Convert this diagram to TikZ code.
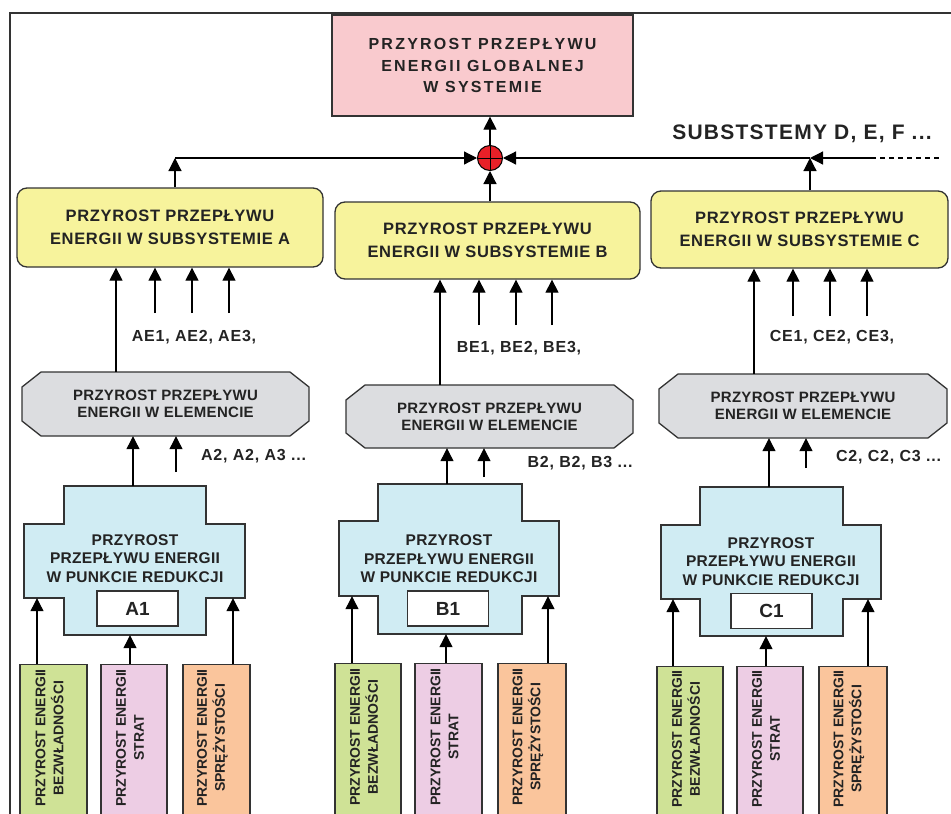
\documentclass[tikz,border=0pt]{standalone}
\usepackage{fontspec}
\setmainfont{Liberation Sans}
\newfontfamily\fT{Liberation Sans}[LetterSpace=14]
\newfontfamily\fY{Liberation Sans}[LetterSpace=4]
\newfontfamily\fO{Liberation Sans}[LetterSpace=2]
\newfontfamily\fL{Liberation Sans}[LetterSpace=5]
\newfontfamily\fS{Liberation Sans}[LetterSpace=6]
\usetikzlibrary{arrows.meta,calc}
\definecolor{pinkT}{RGB}{249,202,206}
\definecolor{yel}{RGB}{247,243,156}
\definecolor{gry}{RGB}{220,221,224}
\definecolor{blu}{RGB}{208,236,243}
\definecolor{grn}{RGB}{207,226,150}
\definecolor{pnk}{RGB}{237,205,228}
\definecolor{org}{RGB}{250,197,156}
\definecolor{edge}{RGB}{51,51,51}
\definecolor{txt}{RGB}{35,35,35}
\definecolor{sumred}{RGB}{232,32,40}
\newcommand\octbox[6]{%
  \draw[outl, fill=gry] ({#1+19},#2) -- ({#3-19},#2) -- (#3,{#2+15}) -- (#3,{#4-15})
    -- ({#3-19},#4) -- ({#1+19},#4) -- (#1,{#4-15}) -- (#1,{#2+15}) -- cycle;
  \node[inner sep=0pt, minimum width={#3-#1}, minimum height={#4-#2}, align=center,
    text=txt, font=\fO\bfseries\fontsize{15}{17}\selectfont] (#5) at ({(#1+#3)/2},{(#2+#4)/2}) {#6};}
% narrow x1 x2, wide x1 x2, y1 y2 y3 y4, name
\newcommand\crossbox[9]{%
  \draw[outl, fill=blu] (#1,#5) -- (#2,#5) -- (#2,#6) -- (#4,#6) -- (#4,#7) -- (#2,#7)
    -- (#2,#8) -- (#1,#8) -- (#1,#7) -- (#3,#7) -- (#3,#6) -- (#1,#6) -- cycle;
  \node[inner sep=0pt, minimum width={#2-#1}, minimum height={#8-#5}] (#9) at ({(#1+#2)/2},{(#5+#8)/2}) {};
  \node[inner sep=0pt, minimum width={#4-#3}, minimum height={#7-#6}] (#9w) at ({(#3+#4)/2},{(#6+#7)/2}) {};}
\begin{document}
\begin{tikzpicture}[x=1pt,y=-1pt,
  outl/.style={draw=edge, line width=1.3pt},
  box/.style={outl, inner sep=0pt, align=center, text=txt},
  ybox/.style={box, fill=yel, rounded corners=10pt, font=\fY\bfseries\fontsize{16.5}{23}\selectfont},
  ctext/.style={inner sep=0pt, align=center, text=txt, font=\fO\bfseries\fontsize{15.5}{18.5}\selectfont},
  idbox/.style={box, fill=white, line width=1.2pt, minimum width=81pt, minimum height=35pt, font=\bfseries\fontsize{19}{22}\selectfont},
  bbox/.style={box, anchor=north, minimum height=170pt},
  btext/.style={inner sep=0pt, align=center, text=txt, rotate=90, font=\bfseries\fontsize{14}{18}\selectfont},
  lab/.style={inner sep=0pt, text=txt, font=\fL\bfseries\fontsize{16}{18}\selectfont},
  arr/.style={-{Triangle[length=13pt,width=13pt]}, line width=1.2pt, draw=black}]
\useasboundingbox (0,0) rectangle (951,814);
\clip (0,0) rectangle (951,814);
% frame
\draw[line width=1.6pt, edge] (951,13) -- (10,13) -- (10,830);
% top
\node[box, fill=pinkT, minimum width=301pt, minimum height=101pt,
  font=\fT\bfseries\fontsize{16}{21.5}\selectfont] (top) at (482.5,65.5)
  {PRZYROST PRZEPŁYWU\\ENERGII GLOBALNEJ\\W SYSTEMIE};
\node[inner sep=0pt, text=txt, font=\fS\bfseries\fontsize{21}{23}\selectfont] (subs) at (802,134) {SUBSTSTEMY D, E, F ...};
\node[circle, draw=black, fill=sumred, line width=1pt, minimum size=25pt, inner sep=0pt] (sum) at (490,158) {};
\draw[line width=1pt] (sum.north) -- (sum.south) (sum.west) -- (sum.east);
% subsystem boxes
\node[ybox, minimum width=306pt, minimum height=79pt] (yA) at (170,227.5) {PRZYROST PRZEPŁYWU\\ENERGII W SUBSYSTEMIE A};
\node[ybox, minimum width=305pt, minimum height=77pt] (yB) at (487.5,240.5) {PRZYROST PRZEPŁYWU\\ENERGII W SUBSYSTEMIE B};
\node[ybox, minimum width=297pt, minimum height=77pt] (yC) at (799.5,229.5) {PRZYROST PRZEPŁYWU\\ENERGII W SUBSYSTEMIE C};
% top connections
\coordinate (jA) at (175,158);
\coordinate (jC) at (810,158);
\coordinate (dS) at (871,158);
\coordinate (dE) at (940,158);
\draw[arr] (sum.north) -- (top.south -| sum.north);
\draw[arr] (yA.north -| jA) -- (jA);
\draw[arr] (jA) -- (sum.west);
\draw[arr] (yB.north -| sum.south) -- (sum.south);
\draw[arr] (yC.north -| jC) -- (jC);
\draw[arr] (dS) -- (jC);
\draw[arr] (jC) -- (sum.east);
\draw[line width=1.2pt, dash pattern=on 5pt off 4pt] (dS) -- (dE);
% element octagons
\octbox{22}{372}{309}{436}{oA}{PRZYROST PRZEPŁYWU\\ENERGII W ELEMENCIE}
\octbox{346}{385}{633}{448}{oB}{PRZYROST PRZEPŁYWU\\ENERGII W ELEMENCIE}
\octbox{659}{374}{947}{438}{oC}{PRZYROST PRZEPŁYWU\\ENERGII W ELEMENCIE}
% reduction point crosses
\crossbox{64}{206}{24}{245}{486}{524}{598}{635}{cA}
\crossbox{378}{522}{339}{559}{484}{521}{596}{634}{cB}
\crossbox{700}{843}{661}{881}{487}{525}{599}{636}{cC}
\node[ctext] (tA) at (135,558.5) {PRZYROST\\PRZEPŁYWU ENERGII\\W PUNKCIE REDUKCJI};
\node[ctext] (tB) at (449,559) {PRZYROST\\PRZEPŁYWU ENERGII\\W PUNKCIE REDUKCJI};
\node[ctext] (tC) at (771,561.5) {PRZYROST\\PRZEPŁYWU ENERGII\\W PUNKCIE REDUKCJI};
\node[idbox] (iA) at (137.5,608.5) {A1};
\node[idbox] (iB) at (448,608.5) {B1};
\node[idbox] (iC) at (771.5,611) {C1};
% bottom energy boxes
\node[bbox, fill=grn, minimum width=67pt] (gA) at (53.5,664) {};
\node[bbox, fill=pnk, minimum width=66pt] (pA) at (134,664) {};
\node[bbox, fill=org, minimum width=67pt] (rA) at (216.5,664) {};
\node[bbox, fill=grn, minimum width=66pt] (gB) at (368,663) {};
\node[bbox, fill=pnk, minimum width=67pt] (pB) at (448.5,663) {};
\node[bbox, fill=org, minimum width=68pt] (rB) at (532,663) {};
\node[bbox, fill=grn, minimum width=66pt] (gC) at (690,666) {};
\node[bbox, fill=pnk, minimum width=66pt] (pC) at (770,666) {};
\node[bbox, fill=org, minimum width=68pt] (rC) at (853,666) {};
\node[btext] at (49.5,738) {PRZYROST ENERGII\\BEZWŁADNOŚCI};
\node[btext] at (130,738) {PRZYROST ENERGII\\STRAT};
\node[btext] at (212.5,738) {PRZYROST ENERGII\\SPRĘŻYSTOŚCI};
\node[btext] at (364,737) {PRZYROST ENERGII\\BEZWŁADNOŚCI};
\node[btext] at (444.5,737) {PRZYROST ENERGII\\STRAT};
\node[btext] at (528,737) {PRZYROST ENERGII\\SPRĘŻYSTOŚCI};
\node[btext] at (686,739) {PRZYROST ENERGII\\BEZWŁADNOŚCI};
\node[btext] at (766,739) {PRZYROST ENERGII\\STRAT};
\node[btext] at (849,739) {PRZYROST ENERGII\\SPRĘŻYSTOŚCI};
% column x references
\coordinate (xgA) at (37,0);  \coordinate (xpA) at (130,0); \coordinate (xrA) at (233,0);
\coordinate (xgB) at (352,0); \coordinate (xpB) at (446,0); \coordinate (xrB) at (548,0);
\coordinate (xgC) at (673,0); \coordinate (xpC) at (766,0); \coordinate (xrC) at (868,0);
\coordinate (xcA) at (133,0); \coordinate (xcB) at (447,0); \coordinate (xcC) at (769,0);
\coordinate (xoA) at (116,0); \coordinate (xoB) at (440,0); \coordinate (xoC) at (754,0);
% bottom arrows
\draw[arr] (gA.north -| xgA) -- (cAw.south -| xgA);
\draw[arr] (pA.north -| xpA) -- (cA.south -| xpA);
\draw[arr] (rA.north -| xrA) -- (cAw.south -| xrA);
\draw[arr] (gB.north -| xgB) -- (cBw.south -| xgB);
\draw[arr] (pB.north -| xpB) -- (cB.south -| xpB);
\draw[arr] (rB.north -| xrB) -- (cBw.south -| xrB);
\draw[arr] (gC.north -| xgC) -- (cCw.south -| xgC);
\draw[arr] (pC.north -| xpC) -- (cC.south -| xpC);
\draw[arr] (rC.north -| xrC) -- (cCw.south -| xrC);
% cross -> octagon
\draw[arr] (cA.north -| xcA) -- (oA.south -| xcA);
\draw[arr] (cB.north -| xcB) -- (oB.south -| xcB);
\draw[arr] (cC.north -| xcC) -- (oC.south -| xcC);
\coordinate (eA) at (176,472); \coordinate (eB) at (484,477); \coordinate (eC) at (806,468);
\draw[arr] (eA) -- (oA.south -| eA);
\draw[arr] (eB) -- (oB.south -| eB);
\draw[arr] (eC) -- (oC.south -| eC);
\node[lab] (lA2) at (253.5,456) {A2, A2, A3 ...};
\node[lab] (lB2) at (580,463) {B2, B2, B3 ...};
\node[lab] (lC2) at (888.5,457) {C2, C2, C3 ...};
% octagon -> subsystem
\draw[arr] (oA.north -| xoA) -- (yA.south -| xoA);
\draw[arr] (oB.north -| xoB) -- (yB.south -| xoB);
\draw[arr] (oC.north -| xoC) -- (yC.south -| xoC);
\coordinate (sA1) at (155,313); \coordinate (sA2) at (192,313); \coordinate (sA3) at (229,313);
\coordinate (sB1) at (479,325); \coordinate (sB2) at (516,325); \coordinate (sB3) at (552,325);
\coordinate (sC1) at (793,316); \coordinate (sC2) at (830,316); \coordinate (sC3) at (867,316);
\foreach \s in {sA1,sA2,sA3} \draw[arr] (\s) -- (yA.south -| \s);
\foreach \s in {sB1,sB2,sB3} \draw[arr] (\s) -- (yB.south -| \s);
\foreach \s in {sC1,sC2,sC3} \draw[arr] (\s) -- (yC.south -| \s);
\node[lab] (lAE) at (194,337) {AE1, AE2, AE3,};
\node[lab] (lBE) at (519,348) {BE1, BE2, BE3,};
\node[lab] (lCE) at (832,337) {CE1, CE2, CE3,};
\end{tikzpicture}
\end{document}
